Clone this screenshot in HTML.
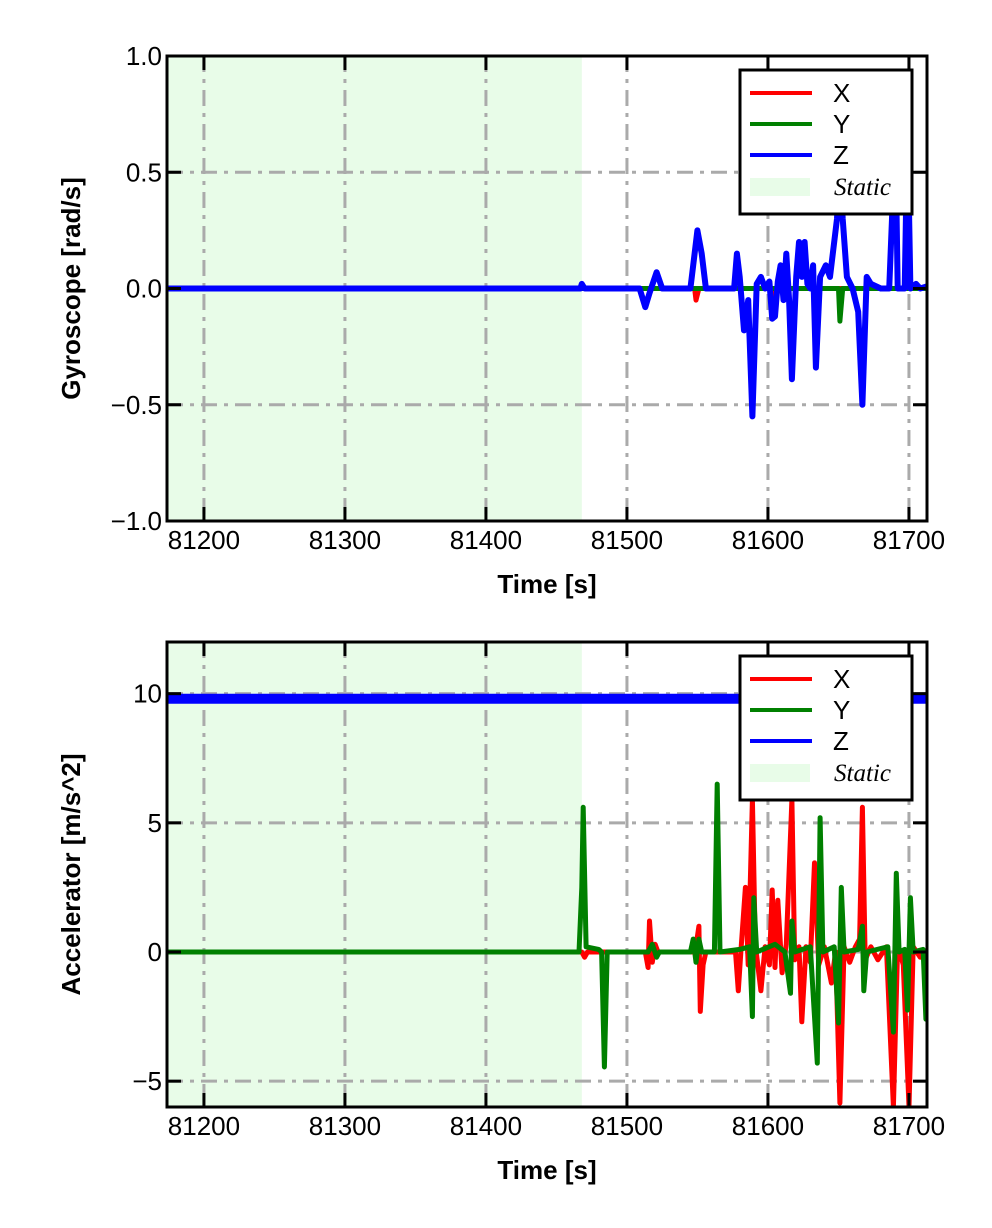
<!DOCTYPE html>
<html><head><meta charset="utf-8"><style>
body{margin:0;background:#fff;}
svg{display:block;font-family:"Liberation Sans",sans-serif;}
</style></head><body>
<svg id="svg" width="992" height="1228"></svg>
<script>
const xTicks=[81200,81300,81400,81500,81600,81700];
const staticEnd=81468;
const gyroTicks=[1.0,0.5,0.0,-0.5,-1.0];
const gyroTickLabels=["1.0","0.5","0.0","\u22120.5","\u22121.0"];
const accTicks=[10,5,0,-5];
const accTickLabels=["10","5","0","\u22125"];
const gyroX=[[81174,0],[81548,0],[81549,-0.05],[81551,0],[81603,0],[81604,-0.03],[81606,0],[81713,0]];
const gyroY=[[81174,0],[81650,0],[81651,-0.14],[81653,0],[81713,0]];
const gyroZ=[[81174,0],[81467,0],[81468,0.02],[81470,0],[81509,0],[81513,-0.08],[81516,-0.02],[81521,0.07],[81525,0],[81545,0],[81547,0.1],[81550,0.25],[81553,0.15],[81556,0],[81576,0],[81578,0.15],[81580,0.05],[81583,-0.18],[81586,-0.05],[81589,-0.55],[81592,0.02],[81595,0.05],[81598,0],[81601,0.03],[81603,-0.13],[81605,-0.12],[81607,0.03],[81609,0.1],[81611,-0.05],[81613,0.15],[81615,-0.05],[81617,-0.39],[81620,0.05],[81622,0.2],[81624,0.05],[81626,0.2],[81628,0.02],[81630,0],[81632,0.1],[81634,-0.34],[81637,0.05],[81641,0.1],[81644,0.05],[81646,0.15],[81649,0.3],[81651,0.55],[81653,0.3],[81656,0.05],[81660,0],[81664,-0.1],[81667,-0.5],[81670,0.05],[81673,0.02],[81680,0],[81686,0],[81688,0.3],[81690,0.8],[81692,0],[81697,0],[81699,0.7],[81701,0],[81705,0.02],[81708,0],[81713,0.01]];
const accX=[[81174,0],[81468,0],[81470,-0.2],[81472,0],[81513,0],[81515,-0.6],[81516,1.2],[81518,-0.4],[81520,0.3],[81522,0],[81548,0],[81550,0.6],[81551,1.0],[81552,-2.3],[81554,-0.5],[81556,0],[81577,0],[81579,-1.5],[81581,0.2],[81584,2.5],[81586,-0.5],[81589,5.9],[81591,0.3],[81595,-1.5],[81598,0.2],[81601,-0.5],[81603,2.4],[81605,-0.6],[81607,2.0],[81610,-0.8],[81613,0.3],[81617,5.9],[81619,-0.3],[81622,0.2],[81624,-2.7],[81627,0.2],[81630,-0.4],[81633,3.45],[81636,-0.5],[81640,0.2],[81645,-1.2],[81648,0],[81651,-5.85],[81654,0.2],[81658,-0.4],[81662,0.2],[81665,0.5],[81667,5.6],[81669,-0.3],[81673,0.2],[81678,-0.3],[81684,0.2],[81689,-6],[81692,0.3],[81696,-0.5],[81700,-6],[81703,0.2],[81708,-0.2],[81713,0]];
const accY=[[81174,0],[81466,0],[81468,2.5],[81469,5.6],[81471,0.2],[81480,0.1],[81482,0],[81484,-4.45],[81486,0],[81515,0],[81518,0.3],[81521,-0.2],[81523,0],[81545,0],[81547,0.5],[81549,-0.4],[81551,0.5],[81553,0],[81562,0],[81564,6.5],[81566,0],[81580,0.1],[81587,0.2],[81589,-2.5],[81590,2.1],[81592,0],[81605,0.3],[81612,0],[81616,-1.6],[81617,1.2],[81619,0],[81630,0.2],[81635,-4.3],[81637,5.2],[81639,0],[81647,0.2],[81650,-2.75],[81652,2.5],[81654,0],[81664,0.1],[81667,1],[81668,-1.5],[81670,0],[81685,0.2],[81689,-3.1],[81691,3.05],[81693,0],[81697,0.1],[81699,-2.25],[81701,2.1],[81703,0],[81710,0.1],[81712,-2.6],[81713,-2.6]];
const accZ=[[81174,9.8],[81713,9.8]];

const NS="http://www.w3.org/2000/svg";
const svg=document.getElementById('svg');
function mk(tag,attrs,parent){const e=document.createElementNS(NS,tag);for(const k in attrs)e.setAttribute(k,attrs[k]);(parent||svg).appendChild(e);return e;}
const X0=167,X1=927,T0=81173.8,T1=81712.8;
function xs(t){return X0+(t-T0)/(T1-T0)*(X1-X0);}

function panel(top,bot,ymin,ymax,ticks,tickLabels,series,ytitle,name){
  const g=mk('g',{});
  
  
  const ys=v=>bot-(v-ymin)/(ymax-ymin)*(bot-top);
  const clipId='clip-'+name;
  const cp=mk('clipPath',{id:clipId},g);mk('rect',{x:X0,y:top,width:X1-X0,height:bot-top},cp);
  const sh=mk('rect',{x:X0,y:top,width:xs(staticEnd)-X0,height:bot-top,fill:'#e8fce8'},g);
  
  
  xTicks.forEach(t=>{const l=mk('line',{x1:xs(t),x2:xs(t),y1:top,y2:bot,stroke:'#aaa','stroke-width':3,'stroke-dasharray':'16,7,4,7'},g);
    });
  ticks.forEach(v=>{const l=mk('line',{x1:X0,x2:X1,y1:ys(v),y2:ys(v),stroke:'#aaa','stroke-width':3,'stroke-dasharray':'16,7,4,7'},g);
    });
  const cg=mk('g',{'clip-path':'url(#'+clipId+')'},g);
  series.forEach(s=>{const p=mk('polyline',{points:s.d.map(q=>xs(q[0]).toFixed(1)+','+ys(q[1]).toFixed(1)).join(' '),fill:'none',stroke:s.c,'stroke-width':s.w||5,'stroke-linejoin':'round'},cg);
    });
  xTicks.forEach(t=>{mk('line',{x1:xs(t),x2:xs(t),y1:bot,y2:bot-14,stroke:'#000','stroke-width':3},g);mk('line',{x1:xs(t),x2:xs(t),y1:top,y2:top+14,stroke:'#000','stroke-width':3},g);
    const tx=mk('text',{x:xs(t),y:bot+28,'text-anchor':'middle','font-size':26},g);tx.textContent=t;
    });
  ticks.forEach((v,i)=>{mk('line',{x1:X0,x2:X0+14,y1:ys(v),y2:ys(v),stroke:'#000','stroke-width':3},g);mk('line',{x1:X1,x2:X1-14,y1:ys(v),y2:ys(v),stroke:'#000','stroke-width':3},g);
    const tx=mk('text',{x:162,y:ys(v)+9,'text-anchor':'end','font-size':26},g);tx.textContent=tickLabels[i];
    });
  mk('rect',{x:X0,y:top,width:X1-X0,height:bot-top,fill:'none',stroke:'#000','stroke-width':3},g);
  const xt=mk('text',{x:547,y:bot+72,'text-anchor':'middle','font-size':26,'font-weight':'bold'},g);xt.textContent='Time [s]';
  
  const cy=(top+bot)/2;
  const yt=mk('text',{x:80,y:cy,'text-anchor':'middle','font-size':26,'font-weight':'bold',transform:'rotate(-90 80 '+cy+')'},g);yt.textContent=ytitle;
  
  const lt=top+14;
  const lg=mk('g',{},g);
  
  mk('rect',{x:740,y:lt,width:172,height:144,fill:'#fff',stroke:'#000','stroke-width':3},lg);
  const items=[['X','red'],['Y','green'],['Z','#0000ff']];
  items.forEach((it,i)=>{const yy=lt+23+i*31;
    mk('line',{x1:750,x2:812,y1:yy,y2:yy,stroke:it[1],'stroke-width':4},lg);
    const tx=mk('text',{x:833,y:yy+9,'font-size':26},lg);tx.textContent=it[0];
    });
  mk('rect',{x:750,y:lt+108,width:60,height:18,fill:'#e8fce8'},lg);
  const st=mk('text',{x:834,y:lt+125,'font-size':25,'font-style':'italic','font-family':'"Liberation Serif",serif'},lg);st.textContent='Static';
  
}
panel(56,521,-1,1,gyroTicks,gyroTickLabels,[{n:'X',c:'red',d:gyroX},{n:'Y',c:'green',d:gyroY},{n:'Z',c:'#0000ff',d:gyroZ,w:6}],'Gyroscope [rad/s]','gyroscope-chart');
panel(642,1107,-6,12,accTicks,accTickLabels,[{n:'Z',c:'#0000ff',d:accZ,w:10},{n:'X',c:'red',d:accX},{n:'Y',c:'green',d:accY}],'Accelerator [m/s^2]','accelerometer-chart');
</script>
</body></html>
